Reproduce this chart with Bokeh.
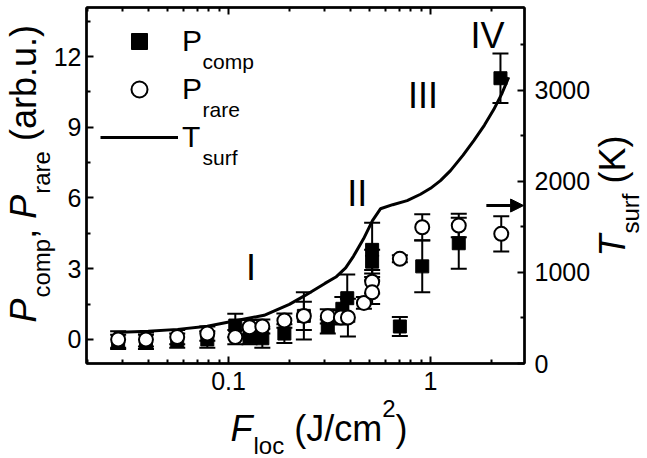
from math import log10, pi
from bokeh.plotting import figure
from bokeh.models import (ColumnDataSource, Range1d, LinearAxis, LogAxis, FixedTicker, GridBox, Column,
                          Whisker, TeeHead, Label, Arrow, NormalHead, Legend, LegendItem)
from bokeh.core.properties import value
from bokeh.embed import file_html
from bokeh.resources import INLINE

# ---------------- data ----------------
comp_x = [0.0284, 0.039, 0.0557, 0.0785, 0.108, 0.127, 0.147, 0.189, 0.236, 0.31, 0.366, 0.387,
          0.514, 0.514, 0.705, 0.91, 1.38, 2.22]
comp_y = [-0.1, -0.1, -0.05, 0.0, 0.59, 0.1, 0.05, 0.25, 1.0, 0.55, 1.3, 1.75,
          3.3, 3.8, 0.55, 3.1, 4.08, 11.08]
comp_err = [0.3, 0.3, 0.3, 0.35, 0.5, 0.3, 0.4, 0.4, 0.6, 0.3, 0.5, 1.0,
            0.5, 1.15, 0.4, 1.1, 1.08, 1.05]

rare_x = [0.0284, 0.039, 0.0557, 0.0785, 0.108, 0.127, 0.147, 0.189, 0.236, 0.31, 0.36, 0.39,
          0.468, 0.514, 0.514, 0.705, 0.91, 1.38, 2.24]
rare_y = [0.0, 0.0, 0.1, 0.25, 0.1, 0.52, 0.55, 0.8, 1.0, 0.98, 0.93, 0.93,
          1.55, 2.45, 2.0, 3.42, 4.76, 4.83, 4.48]
rare_err = [0.35, 0.3, 0.3, 0.3, 0.3, 0.3, 0.3, 0.3, 1.0, 0.3, 0.3, 0.8,
            0.25, 0.5, 0.5, 0.15, 0.55, 0.5, 0.75]

tsurf_x = [0.027, 0.04, 0.056, 0.0785, 0.108, 0.15, 0.2, 0.236, 0.3, 0.34, 0.38, 0.416, 0.466,
           0.516, 0.565, 0.65, 0.766, 0.892, 1.0, 1.12, 1.256, 1.45, 1.638, 1.85, 2.056, 2.25, 2.44]
tsurf_T = [340, 355, 375, 410, 470, 530, 650, 740, 880, 950, 1050, 1180, 1370,
           1571, 1700, 1745, 1790, 1860, 1925, 2010, 2120, 2290, 2450, 2620, 2790, 2960, 3146]

roman_x = [0.129, 0.434, 0.918, 1.915]
roman_y = [3.06, 6.21, 10.35, 12.91]
roman_t = ["I", "II", "III", "IV"]

arrow_x = [1.89, 2.89]
arrow_y = [5.68, 5.68]

x_ticks = [0.1, 1]
x_tick_labels = ["0.1", "1"]
x_minor = [0.02, 0.03, 0.04, 0.05, 0.06, 0.07, 0.08, 0.09,
           0.2, 0.3, 0.4, 0.5, 0.6, 0.7, 0.8, 0.9, 2]
y_ticks = [0, 3, 6, 9, 12]
y_minor = [1.5, 4.5, 7.5, 10.5, 13.5]
t_ticks = [0, 1000, 2000, 3000]
t_minor = [500, 1500, 2500, 3500]

# ---------------- layout constants ----------------
W, H = 647, 458
FL, FR, FT, FB = 86, 524, 7, 363
XMIN, XMAX = 0.0198, 2.92
YMIN, YMAX = -1.02, 14.08
TMIN, TMAX = 0, 3912
FONT = "Liberation Sans"


def px2x(px):
    a, b = log10(XMIN), log10(XMAX)
    return 10 ** (a + (px - FL) / (FR - FL) * (b - a))


def py2y(py):
    return YMAX - (py - FT) / (FB - FT) * (YMAX - YMIN)


ADV = {' ': 278, '(': 333, ')': 333, ',': 278, '.': 278, '/': 278, '2': 556, 'a': 556,
       'b': 556, 'c': 500, 'e': 556, 'f': 278, 'l': 222, 'm': 833, 'o': 556, 'p': 556,
       'r': 333, 's': 500, 'u': 556, 'J': 500, 'F': 611, 'P': 667, 'K': 667, 'T': 611}


def tw(text, size):
    return sum(ADV.get(c, 556) for c in text) * size / 1000.0


p = figure(width=W, height=H, x_axis_type="log",
           x_range=Range1d(XMIN, XMAX), y_range=Range1d(YMIN, YMAX),
           output_backend="svg", toolbar_location=None,
           min_border_left=FL, min_border_right=W - FR,
           min_border_top=FT, min_border_bottom=H - FB,
           background_fill_color="white", border_fill_color="white",
           outline_line_color="black", outline_line_width=2)
p.extra_y_ranges = {"T": Range1d(TMIN, TMAX)}
p.grid.visible = False

bottom = p.xaxis[0]
left = p.yaxis[0]
top = LogAxis()
right = LinearAxis(y_range_name="T")
p.add_layout(top, "above")
p.add_layout(right, "right")

bottom.ticker = FixedTicker(ticks=x_ticks, minor_ticks=x_minor)
top.ticker = FixedTicker(ticks=x_ticks, minor_ticks=x_minor)
bottom.major_label_overrides = {t: s for t, s in zip(x_ticks, x_tick_labels)}
top.major_label_overrides = {t: "" for t in x_ticks}
left.ticker = FixedTicker(ticks=y_ticks, minor_ticks=y_minor)
right.ticker = FixedTicker(ticks=t_ticks, minor_ticks=t_minor)

for ax in (bottom, left, top, right):
    ax.axis_line_width = 2.5
    ax.axis_line_color = "black"
    ax.major_tick_in = 7
    ax.major_tick_out = 0
    ax.minor_tick_in = 4
    ax.minor_tick_out = 0
    ax.major_tick_line_width = 2
    ax.minor_tick_line_width = 2
    ax.major_tick_line_color = "black"
    ax.minor_tick_line_color = "black"
    ax.major_label_text_font = FONT
    ax.major_label_text_font_size = "25px"
    ax.major_label_text_color = "black"
bottom.major_label_standoff = 8
left.major_label_standoff = 5
right.major_label_standoff = 10
top.major_label_standoff = 0
top.major_label_text_font_size = "1px"

# ---------------- data marks ----------------
line = p.line(tsurf_x, tsurf_T, y_range_name="T", line_width=3, line_color="black")

src_c = ColumnDataSource(dict(x=comp_x, y=comp_y,
                              lo=[v - e for v, e in zip(comp_y, comp_err)],
                              hi=[v + e for v, e in zip(comp_y, comp_err)]))
src_r = ColumnDataSource(dict(x=rare_x, y=rare_y,
                              lo=[v - e for v, e in zip(rare_y, rare_err)],
                              hi=[v + e for v, e in zip(rare_y, rare_err)]))

for src in (src_c, src_r):
    p.add_layout(Whisker(source=src, base="x", lower="lo", upper="hi", dimension="height",
                         line_width=2, line_color="black",
                         upper_head=TeeHead(size=16, line_width=2, line_color="black"),
                         lower_head=TeeHead(size=16, line_width=2, line_color="black")))

sq = p.scatter("x", "y", source=src_c, marker="square", size=13,
               fill_color="black", line_color="black", line_width=1)
circ = p.scatter("x", "y", source=src_r, marker="circle", size=14,
                 fill_color="white", line_color="black", line_width=2)

p.text(x=roman_x, y=roman_y, text=roman_t, text_font=value(FONT), text_font_size="36px",
       text_align="center", text_baseline="middle", text_color="black")

p.add_layout(Arrow(x_start=arrow_x[0], y_start=arrow_y[0], x_end=arrow_x[1], y_end=arrow_y[1],
                   line_width=3, line_color="black",
                   end=NormalHead(size=13, fill_color="black", line_color="black", line_width=1)))

# ---------------- legend ----------------
LM, LP, GH, LS, GW, STD = 8, 6, 40, 8, 78, 4
legend = Legend(items=[LegendItem(label="P", renderers=[sq]),
                       LegendItem(label="P", renderers=[circ]),
                       LegendItem(label="T", renderers=[line])],
                location="top_left", margin=LM, padding=LP, spacing=LS,
                glyph_width=GW, glyph_height=GH, label_standoff=STD,
                label_text_font=FONT, label_text_font_size="30px", label_text_color="black",
                border_line_alpha=0, background_fill_alpha=0)
p.add_layout(legend)

leg_text_x = FL + LM + LP + GW + STD
row_c = [FT + LM + LP + GH / 2 + (GH + LS) * i for i in range(3)]
for sub, rc in zip(["comp", "rare", "surf"], row_c):
    p.add_layout(Label(x=px2x(leg_text_x + tw("P", 30)), y=py2y(rc + 19.5), text=sub,
                       text_font=FONT, text_font_size="21px", text_color="black",
                       text_align="left", text_baseline="middle"))

# ---------------- transparent overlay for the axis titles (pixel coordinates) ----------------
ov = figure(width=W, height=H, x_range=Range1d(0, W), y_range=Range1d(H, 0),
            output_backend="svg", toolbar_location=None,
            x_axis_location=None, y_axis_location=None,
            min_border_left=0, min_border_right=0, min_border_top=0, min_border_bottom=0,
            background_fill_alpha=0, border_fill_alpha=0, outline_line_alpha=0)
ov.grid.visible = False


def lab(px, py, text, size, style="normal", angle=0.0):
    # (px, py) = start of the baseline; the label is anchored at the middle of the line
    off = 0.345 * size
    if angle:
        ax_, ay_ = px - off, py
    else:
        ax_, ay_ = px, py - off
    ov.add_layout(Label(x=ax_, y=ay_, text=text, text_font=FONT,
                        text_font_size=f"{size}px", text_font_style=style, angle=angle,
                        text_align="left", text_baseline="middle", text_color="black"))


MS, SS = 36, 24
# bottom axis label
x0 = 230
lab(x0, 440, "F", MS, "italic"); x0 += tw("F", MS) + 1
lab(x0, 453, "loc", SS); x0 += tw("loc", SS) + tw(" ", MS)
lab(x0, 440, "(J/cm", MS); x0 += tw("(J/cm", MS)
lab(x0, 416, "2", SS); x0 += tw("2", SS)
lab(x0, 440, ")", MS)

# left axis label (rotated)
y0 = 322
lab(35, y0, "P", MS, "italic", pi / 2); y0 -= tw("P", MS) + 1
lab(49, y0, "comp", SS, "normal", pi / 2); y0 -= tw("comp", SS)
lab(35, y0, ",", MS, "normal", pi / 2); y0 -= tw(", ", MS)
lab(35, y0, "P", MS, "italic", pi / 2); y0 -= tw("P", MS) + 1
lab(49, y0, "rare", SS, "normal", pi / 2); y0 -= tw("rare", SS) + tw(" ", MS)
lab(35, y0, "(arb.u.)", MS, "normal", pi / 2)

# right axis label (rotated)
y0 = 256
lab(624, y0, "T", MS, "italic", pi / 2); y0 -= tw("T", MS) + 1
lab(638, y0, "surf", SS, "normal", pi / 2); y0 -= tw("surf", SS) + tw(" ", MS)
lab(624, y0, "(K)", MS, "normal", pi / 2)

grid = GridBox(children=[(p, 0, 0), (Column(children=[ov], width=W, height=H), 0, 0)],
               width=W, height=H)
open("out.html", "w").write(file_html(grid, INLINE))
